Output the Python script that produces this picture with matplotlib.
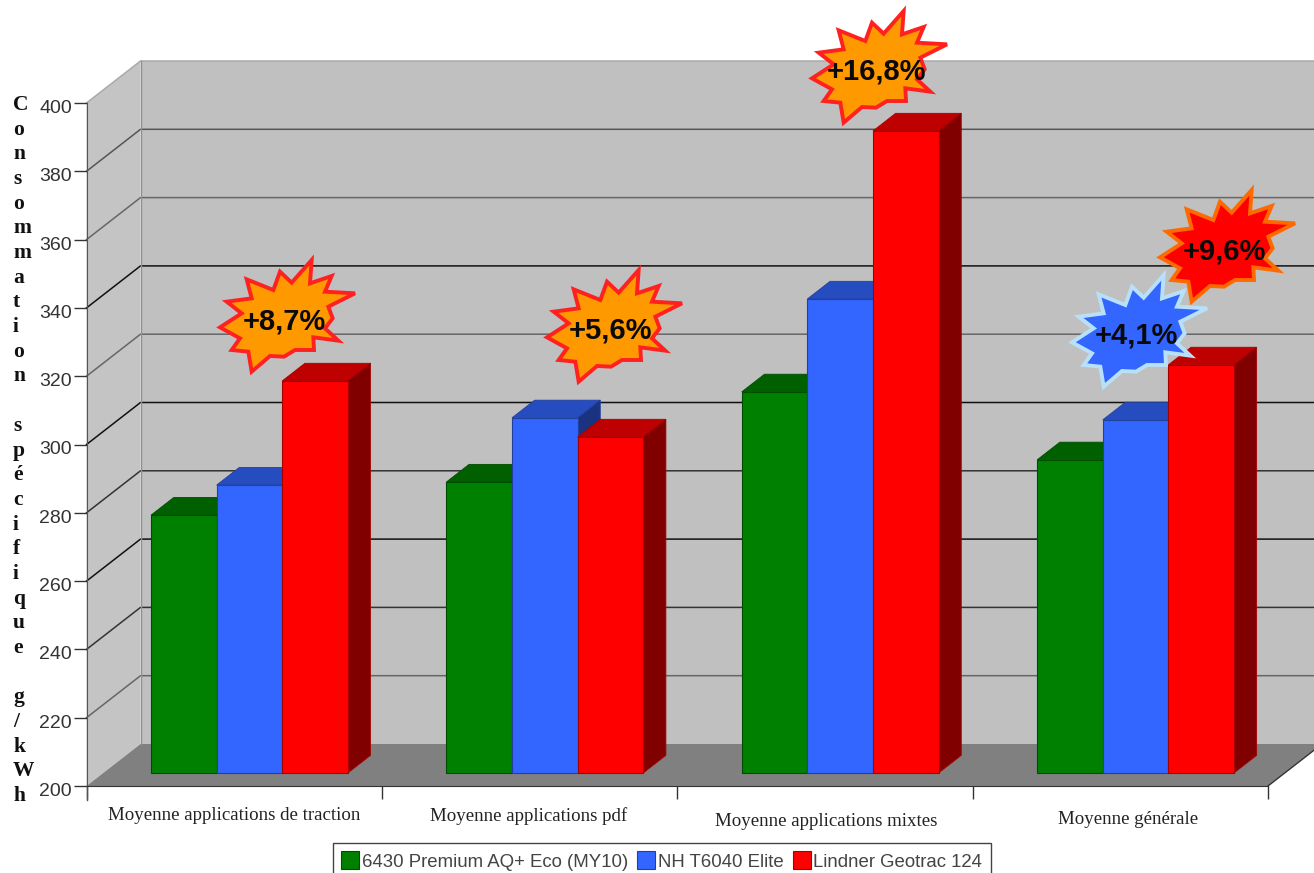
import numpy as np
import matplotlib as mpl
mpl.use('Agg')
import matplotlib.pyplot as plt
from matplotlib.transforms import ScaledTranslation

plt.rcParams['font.family'] = ['Liberation Sans', 'DejaVu Sans']

# consumption per tractor and per group of applications (g/kWh)
categories = ['Moyenne applications de traction', 'Moyenne applications pdf',
              'Moyenne applications mixtes', 'Moyenne générale']
premium = [275.5, 285.2, 311.6, 291.7]
nh_t6040 = [284.3, 304.0, 338.8, 303.4]
geotrac = [314.8, 298.4, 388.0, 319.5]
series_names = ['6430 Premium AQ+ Eco (MY10)', 'NH T6040 Elite', 'Lindner Geotrac 124']
yticks = list(range(200, 401, 20))
ylabel = 'Consommation spécifique g/kWh'
burst_labels = ['+8,7%', '+5,6%', '+16,8%', '+4,1%', '+9,6%']

W, H = 1314, 873
AX_L, AX_R, AX_T, AX_B = 86.5, 1268.0, 103.0, 786.0
PX_X = 4.0 / (AX_R - AX_L)    # categories per pixel
PX_Y = 200.0 / (AX_B - AX_T)  # g/kWh per pixel

# the fake 3D box: depth 0 is the axis plane, depth 1 the back wall
DX = 54 * PX_X
DY = 42 * PX_Y
BAR_FRONT = 0.31
BAR_BACK = 0.73
BAR_W = 65.6 * PX_X
BAR_SHIFT = -1.5 * PX_X


def proj(x, v, depth):
    return x + depth * DX, v + depth * DY


def quad(ax, pts, color, edge='none', lw=0.0, z=1):
    xs = [p[0] for p in pts]
    ys = [p[1] for p in pts]
    ax.fill(xs, ys, facecolor=color, edgecolor=edge, linewidth=lw, zorder=z, clip_on=False)


def draw_box(ax):
    xend = 4.2
    quad(ax, [proj(0, 200, 1), proj(0, 400, 1), proj(xend, 400, 1), proj(xend, 200, 1)], '#c0c0c0')
    quad(ax, [proj(0, 200, 0), proj(0, 400, 0), proj(0, 400, 1), proj(0, 200, 1)], '#c4c4c4')
    quad(ax, [proj(0, 200, 0), proj(0, 200, 1), proj(4, 200, 1), proj(4, 200, 0)], '#808080')
    # gridlines run along the side wall and then along the back wall
    grid_dark = {220: '#666666', 240: '#333333', 260: '#111111', 280: '#333333', 300: '#111111',
                 320: '#666666', 340: '#111111', 360: '#666666', 380: '#555555', 400: '#aaaaaa'}
    for v in yticks[1:]:
        a = proj(0, v, 0)
        b = proj(0, v, 1)
        c = proj(xend, v, 1)
        ax.plot([a[0], b[0], c[0]], [a[1], b[1], c[1]], color=grid_dark[v], lw=1.1, zorder=1.5,
                clip_on=False, solid_joinstyle='miter')
    a = proj(0, 200, 1)
    b = proj(0, 400, 1)
    ax.plot([a[0], b[0]], [a[1], b[1]], color='#909090', lw=1.0, zorder=1.5, clip_on=False)
    a = proj(4, 200, 0)
    b = proj(4, 200, 1)
    ax.plot([a[0], b[0]], [a[1], b[1]], color='#333333', lw=1.0, zorder=1.5, clip_on=False)


def draw_bars(ax):
    styles = [('#008000', '#006000', '#004000', '#004d00'),
              ('#3366ff', '#264dbf', '#1a3380', '#24409f'),
              ('#ff0000', '#bf0000', '#800000', '#a80000')]
    base = 200 + BAR_FRONT * DY
    handles = []
    for j, vals in enumerate([premium, nh_t6040, geotrac]):
        front, top, side, edge = styles[j]
        x = np.arange(4) + 0.5 + (j - 1) * BAR_W + BAR_FRONT * DX + BAR_SHIFT
        z = 3 + j
        for xi, v in zip(x, vals):
            y = v + BAR_FRONT * DY
            x1 = xi - BAR_W / 2
            x2 = xi + BAR_W / 2
            d0 = BAR_BACK - BAR_FRONT
            quad(ax, [(x2, y), (x2 + d0 * DX, y + d0 * DY), (x1 + d0 * DX, y + d0 * DY), (x1, y)],
                 top, edge, 0.6, z)
            quad(ax, [(x2, base), (x2 + d0 * DX, base + d0 * DY), (x2 + d0 * DX, y + d0 * DY), (x2, y)],
                 side, edge, 0.6, z)
        bars = ax.bar(x, np.array(vals) - 200, width=BAR_W, bottom=base, color=front,
                      edgecolor=edge, linewidth=0.8, zorder=z + 0.5, clip_on=False,
                      label=series_names[j])
        handles.append(bars)
    return handles


# one burst outline, pixels around its centre, clockwise from the top spike
burst_x = np.array([86, 81, 146, 126, 216, 136, 149, 126, 166, 91, 93, 36, 3,
                    -39, -94, -104, -154, -129, -189, -124, -169, -94, -109, -29, -9, 26]) / 3.0
burst_y = np.array([171, 101, 123, 76, 71, 31, -4, -34, -71, -61, -99, -99, -119,
                    -117, -164, -104, -99, -64, -31, 11, 46, 56, 113, 81, 136, 103]) / 3.0


def draw_burst(ax, cx, cy, text, face, edge):
    xs = (cx + burst_x - AX_L) * PX_X
    ys = 200 + (AX_B - cy + burst_y) * PX_Y
    ax.fill(xs, ys, facecolor=face, edgecolor=edge, linewidth=2.8, zorder=10, clip_on=False,
            joinstyle='miter')
    ax.text((cx + 1 - AX_L) * PX_X, 200 + (AX_B - cy - 4) * PX_Y, text, ha='center', va='center',
            fontsize=21, fontweight='bold', color='#0a0a0a', zorder=11, clip_on=False)


def main():
    fig = plt.figure(figsize=(W / 100.0, H / 100.0), dpi=100)
    ax = fig.add_axes([AX_L / W, 1 - AX_B / H, (AX_R - AX_L) / W, (AX_B - AX_T) / H])
    ax.patch.set_visible(False)
    draw_box(ax)
    handles = draw_bars(ax)

    ax.set_xlim(0, 4)
    ax.set_ylim(200, 400)
    ax.set_yticks(yticks)
    ax.set_xticks(range(5))
    ax.set_xticklabels([])
    ax.tick_params(axis='y', length=9.5, width=1.0, color='#333333', pad=1,
                   labelsize=14, labelcolor='#333333')
    ax.tick_params(axis='x', length=9, width=1.0, color='#333333')
    # numbers sit a little under their ticks
    shift = ScaledTranslation(0, -2.5 / 72, fig.dpi_scale_trans)
    for lab in ax.get_yticklabels():
        lab.set_transform(lab.get_transform() + shift)
    for s in ['top', 'right']:
        ax.spines[s].set_visible(False)
    ax.spines['left'].set_color('#555555')
    ax.spines['left'].set_bounds(200, 400)
    ax.spines['bottom'].set_color('#333333')
    ax.plot([0, 0], [200, 196], color='#555555', lw=1.0, clip_on=False)

    # labels sit slightly off the category centres
    nudge_x = [0, -1, 1, 8]
    nudge_y = [-29, -30, -35, -33]
    for i, name in enumerate(categories):
        ax.annotate(name, (i + 0.5, 200), xytext=(nudge_x[i] * 0.72, nudge_y[i] * 0.72),
                    textcoords='offset points', ha='center', va='center',
                    fontsize=13.6, family='Liberation Serif', color='#222222',
                    annotation_clip=False)

    # stacked letters of the vertical title
    for i, ch in enumerate(ylabel):
        fig.text(13.0 / W, 1 - (105 + i * 24.68) / H, ch, ha='left', va='center',
                 fontsize=15.5, fontweight='bold', family='Liberation Serif', color='#111111')

    orange = ('#ff9900', '#ff2020')
    draw_burst(ax, 283, 317, burst_labels[0], *orange)
    draw_burst(ax, 610, 327, burst_labels[1], *orange)
    draw_burst(ax, 875, 68, burst_labels[2], *orange)
    draw_burst(ax, 1223, 247, burst_labels[4], '#ff0000', '#ff6a00')
    draw_burst(ax, 1135, 332, burst_labels[3], '#3366ff', '#b8e0f8')

    leg = ax.legend(handles, series_names, ncols=3, loc='upper left',
                    bbox_to_anchor=(333.0 / W, 1 - 843.0 / H), bbox_transform=fig.transFigure,
                    fontsize=13.4, frameon=True, fancybox=False, edgecolor='#444444',
                    framealpha=1, handlelength=0.95, handleheight=1.1, handletextpad=0.15,
                    columnspacing=0.5, borderaxespad=0, borderpad=0.45)
    leg.set_zorder(20)
    for t in leg.get_texts():
        t.set_color('#444444')

    fig.savefig('out.png', dpi=100)


if __name__ == '__main__':
    main()
